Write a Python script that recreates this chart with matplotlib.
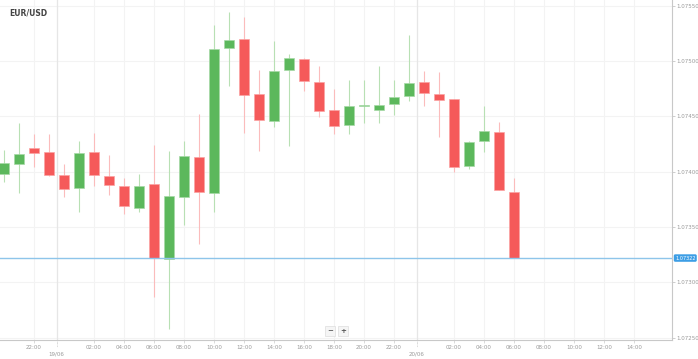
import matplotlib.pyplot as plt
import matplotlib.transforms as mtransforms
import pandas as pd

# hourly candles, 18/06 20:00 -> 20/06 06:00
start = '2017-06-18 20:00'
opens = [1.07398, 1.07407, 1.07421, 1.07418, 1.07397, 1.07385, 1.07418, 1.07396,
         1.07387, 1.07367, 1.07389, 1.07321, 1.07377, 1.07413, 1.07381, 1.07512,
         1.07520, 1.07470, 1.07446, 1.07492, 1.07502, 1.07481, 1.07456, 1.07442,
         1.07459, 1.07456, 1.07461, 1.07468, 1.07481, 1.07470, 1.07466, 1.07405,
         1.07428, 1.07436, 1.07382]
highs = [1.07420, 1.07444, 1.07434, 1.07434, 1.07407, 1.07428, 1.07435, 1.07415,
         1.07394, 1.07398, 1.07424, 1.07419, 1.07428, 1.07452, 1.07532, 1.07544,
         1.07540, 1.07492, 1.07518, 1.07506, 1.07503, 1.07495, 1.07475, 1.07483,
         1.07483, 1.07495, 1.07483, 1.07523, 1.07491, 1.07490, 1.07466, 1.07428,
         1.07459, 1.07445, 1.07394]
lows = [1.07391, 1.07381, 1.07404, 1.07396, 1.07377, 1.07364, 1.07387, 1.07379,
        1.07362, 1.07364, 1.07287, 1.07258, 1.07352, 1.07335, 1.07364, 1.07477,
        1.07435, 1.07419, 1.07440, 1.07423, 1.07473, 1.07449, 1.07434, 1.07434,
        1.07444, 1.07444, 1.07451, 1.07464, 1.07459, 1.07431, 1.07400, 1.07402,
        1.07418, 1.07383, 1.07322]
closes = [1.07408, 1.07416, 1.07417, 1.07397, 1.07384, 1.07417, 1.07397, 1.07388,
          1.07369, 1.07387, 1.07322, 1.07378, 1.07414, 1.07382, 1.07511, 1.07519,
          1.07469, 1.07447, 1.07491, 1.07503, 1.07482, 1.07455, 1.07441, 1.07459,
          1.07460, 1.07460, 1.07467, 1.07480, 1.07471, 1.07465, 1.07404, 1.07427,
          1.07437, 1.07383, 1.07322]
price_ticks = [1.07250, 1.07300, 1.07350, 1.07400, 1.07450, 1.07500, 1.07550]
last_price = 1.07322
axis_start, axis_end = '2017-06-18 22:00', '2017-06-20 14:00'

times = pd.date_range(start, periods=len(opens), freq='h')
t0 = times[0]
x = [(t - t0).total_seconds() / 3600 for t in times]

UP, DOWN = '#5cb85c', '#f55a5a'
UP_WICK, DOWN_WICK = '#b8e0b4', '#fbbcbc'
GRID = '#f3f3f3'

fig = plt.figure(figsize=(6.98, 3.59), dpi=100)
ax = fig.add_axes([0, 19 / 359, 672 / 698, 340 / 359])

# grid
for p in price_ticks:
    ax.axhline(p, color=GRID, lw=0.8, zorder=0)

xt, xl = [], []
dates_x, dates_l = [], []
for t in pd.date_range(axis_start, axis_end, freq='2h'):
    h = (t - t0).total_seconds() / 3600
    if t.hour == 0:
        dates_x.append(h - 0.5)
        dates_l.append(t.strftime('%d/%m'))
    else:
        xt.append(h)
        xl.append(t.strftime('%H:%M'))
for v in xt:
    ax.axvline(v, color=GRID, lw=0.8, zorder=0)
for v in dates_x:
    ax.axvline(v, color='#e6e6e6', lw=0.9, zorder=0)

# candles
for i in range(len(x)):
    o, h, l, c = opens[i], highs[i], lows[i], closes[i]
    up = c >= o
    ax.vlines(x[i], l, h, color=UP_WICK if up else DOWN_WICK, lw=0.8, zorder=2)
    body = max(abs(c - o), 0.000012)
    ax.bar(x[i], body, bottom=min(o, c), width=0.62,
           color=UP if up else DOWN,
           edgecolor='#a6d9a6' if up else '#fba3a3', linewidth=0.5, zorder=3)

ax.axhline(last_price, color='#8ec5ea', lw=1.0, zorder=4)

ax.set_xlim(-0.27, 44.53)
ax.set_ylim(1.07248, 1.07555)

for s in ['left', 'top']:
    ax.spines[s].set_visible(False)
for s in ['right', 'bottom']:
    ax.spines[s].set_color('#c8c8c8')
    ax.spines[s].set_linewidth(0.8)

ax.yaxis.tick_right()
ax.set_yticks(price_ticks)
ax.set_yticklabels(['%.5f' % p for p in price_ticks])
ax.tick_params(axis='y', length=2, width=0.5, color='#bbbbbb', labelsize=4,
               labelcolor='#999999', pad=1)

ax.set_xticks(xt)
ax.set_xticklabels(xl)
ax.tick_params(axis='x', length=2, width=0.5, color='#cccccc', labelsize=4,
               labelcolor='#999999', pad=1.5)

# date labels below the hours
trans = mtransforms.blended_transform_factory(ax.transData, ax.transAxes)
for v, lab in zip(dates_x, dates_l):
    ax.plot([v, v], [0, -0.02], transform=trans, color='#bbbbbb', lw=0.5,
            ls=(0, (1, 1)), clip_on=False)
    ax.text(v, -0.033, lab, transform=trans, ha='center', va='top',
            fontsize=4, color='#999999')

# last price tag
ytrans = mtransforms.blended_transform_factory(ax.transAxes, ax.transData)
ax.text(1.0045, last_price, '%.5f' % last_price, transform=ytrans,
        ha='left', va='center', fontsize=3.6, color='white', zorder=6,
        bbox=dict(boxstyle='round,pad=0.25,rounding_size=0.3',
                  fc='#3d9ee5', ec='none'), clip_on=False)

ax.text(0.014, 0.975, 'EUR/USD', transform=ax.transAxes, ha='left', va='top',
        fontsize=5.5, fontweight='bold', color='#444444')

# zoom buttons
for dx, sym in [(0, '\u2212'), (13, '+')]:
    fig.text((330 + dx) / 698, 1 - 331 / 359, sym, ha='center', va='center',
             fontsize=5, fontweight='bold', color='#555555',
             bbox=dict(boxstyle='square,pad=0.25', fc='#f5f5f5', ec='#dddddd',
                       lw=0.5))

fig.savefig('out.png', dpi=100)
plt.close(fig)
